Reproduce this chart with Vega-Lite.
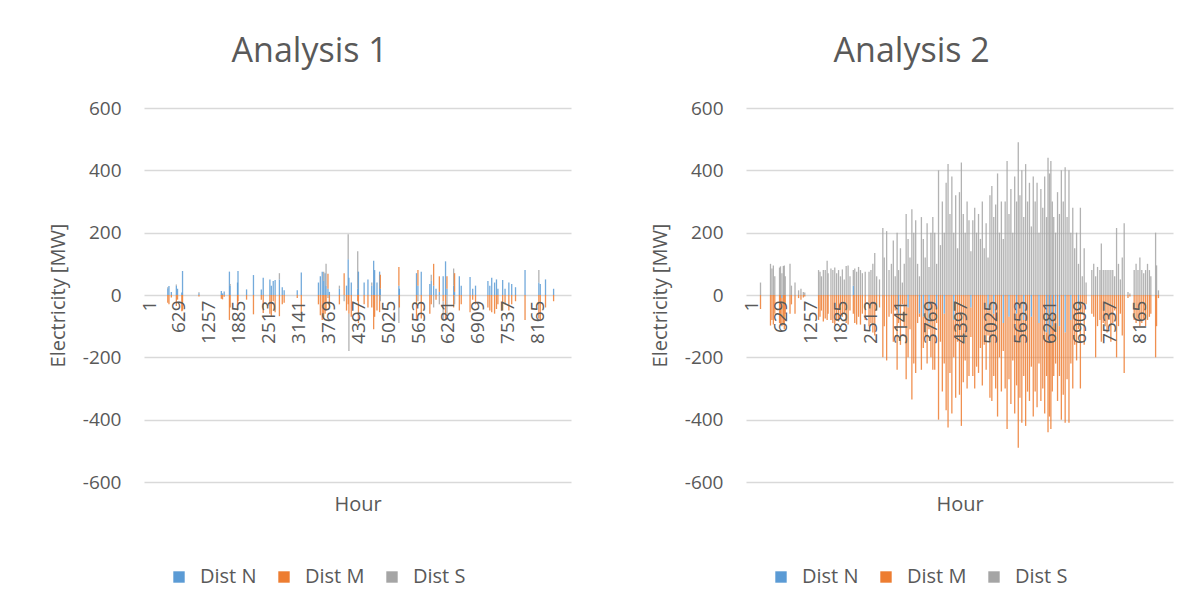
{
 "$schema": "https://vega.github.io/schema/vega-lite/v6.json",
 "background": "white",
 "padding": {"left": 48, "top": 35, "right": 10, "bottom": 5},
 "config": {"font": "Open Sans", "view": {"stroke": null}, "concat": {"spacing": 79}},
 "datasets": {
  "a1": [
   {"h":395,"N":22,"M":-25,"S":3},{"h":420,"N":29,"M":-30},{"h":470,"N":10,"M":-8},{"h":575,"N":30,"M":-35,"S":4},{"h":600,"N":20,"M":-15},{"h":690,"N":8,"M":-52},{"h":705,"N":77,"M":-50},
   {"h":1050,"N":6,"M":-5,"S":3},{"h":1520,"N":13,"M":-12},{"h":1545,"N":5,"M":-14},{"h":1580,"N":11,"M":-6},{"h":1690,"N":75,"M":-80},{"h":1705,"N":30,"M":-40,"S":5},
   {"h":1860,"N":40,"M":-50},{"h":1870,"N":77,"M":-20},{"h":2050,"N":18,"M":-15},{"h":2195,"N":64,"M":-62},{"h":2360,"N":18,"M":-15},{"h":2400,"N":55,"M":-58},
   {"h":2540,"N":50,"M":-60},{"h":2570,"N":30,"M":-70},{"h":2610,"N":45,"M":-20},{"h":2650,"N":48,"M":-55},{"h":2740,"N":50,"M":-68,"S":20},{"h":2800,"N":25,"M":-30},{"h":2840,"N":15,"M":-25},
   {"h":3115,"N":15,"M":-10},{"h":3200,"N":72,"M":-58},{"h":3560,"N":40,"M":-30},{"h":3600,"N":60,"M":-65},{"h":3640,"N":75,"M":-80},{"h":3670,"N":45,"M":-75,"S":30},{"h":3700,"N":70,"M":-60},
   {"h":3720,"N":30,"M":-50,"S":70},{"h":3760,"N":20,"M":48,"S":-10},{"h":3790,"N":10,"M":-40},{"h":4000,"N":20,"M":-30,"S":10},{"h":4100,"M":70,"S":-20},{"h":4150,"N":30,"M":-50},
   {"h":4185,"N":115,"M":-30,"S":80},{"h":4200,"N":55,"M":-60,"S":-120},{"h":4250,"N":40,"M":-70},{"h":4385,"N":20,"M":-20,"S":120},{"h":4400,"N":75,"M":-90},{"h":4520,"N":40,"M":-30},
   {"h":4600,"N":50,"M":-40},{"h":4680,"N":30,"M":-40,"S":10},{"h":4720,"N":110,"M":-110},{"h":4740,"N":80,"M":-70},{"h":4790,"N":40,"M":-50},{"h":4845,"N":75,"M":-55},{"h":4860,"N":20,"M":45,"S":-20},
   {"h":5250,"N":30,"M":60,"S":-90},{"h":5260,"N":20,"M":-40},{"h":5620,"N":70,"M":-80},{"h":5650,"N":30,"M":50,"S":-20},{"h":5720,"N":75,"M":-75},{"h":5900,"N":35,"M":-60},
   {"h":5930,"N":45,"M":-30,"S":20},{"h":5980,"N":30,"M":70,"S":-40},{"h":6030,"N":20,"M":-15},{"h":6100,"N":10,"M":50,"S":-30},{"h":6180,"N":60,"M":-20,"S":-60},{"h":6230,"N":108,"M":-80},
   {"h":6260,"N":20,"M":40,"S":-80},{"h":6400,"N":30,"M":-40,"S":55},{"h":6420,"N":10,"M":60,"S":-30},{"h":6520,"N":60,"M":-50},{"h":6560,"N":30,"M":-30},{"h":6745,"N":58,"M":-55},
   {"h":6800,"N":20,"M":-15},{"h":6860,"N":30,"M":-30},{"h":7120,"N":45,"M":-40},{"h":7160,"N":30,"M":-50},{"h":7200,"N":55,"M":-55},{"h":7260,"N":40,"M":-60},{"h":7300,"N":50,"M":-45},
   {"h":7330,"N":20,"M":-30},{"h":7430,"N":48,"M":-50},{"h":7480,"N":20,"M":-30},{"h":7560,"N":40,"M":-50},{"h":7620,"N":35,"M":-30},{"h":7700,"N":25,"M":-20},{"h":7900,"N":80,"M":-80},
   {"h":8190,"N":40,"M":-75,"S":40},{"h":8220,"N":35,"M":-80},{"h":8330,"N":50,"M":-40},{"h":8500,"N":20,"M":-20}
  ],
  "a2": [
   {"h":200,"S":40,"M":-45},{"h":410,"S":100,"M":-98},{"h":440,"S":85,"M":-80},{"h":470,"S":95,"M":-95},{"h":500,"S":60,"M":-60},{"h":600,"S":88,"M":-90},{"h":620,"S":92,"M":-95},
   {"h":650,"S":70,"M":-90,"N":-10},{"h":680,"S":93,"M":-95},{"h":700,"S":95,"M":-110},{"h":720,"S":60,"M":-60},{"h":820,"S":100,"M":-60},{"h":850,"S":30,"M":-30},{"h":925,"S":40,"M":-60},
   {"h":1000,"S":15,"M":-10},{"h":1050,"S":20,"M":-15},{"h":1100,"S":10,"M":-8},{"h":1130,"S":8,"M":-5},{"h":1420,"S":80,"M":-80},{"h":1450,"S":75,"M":-70},{"h":1480,"S":60,"M":-50},
   {"h":1520,"S":80,"M":-85},{"h":1560,"S":80,"M":-75},{"h":1600,"S":110,"M":-80},{"h":1620,"S":70,"M":-60},{"h":1680,"S":85,"M":-80},{"h":1720,"S":80,"M":-90},{"h":1760,"S":88,"M":-95},
   {"h":1800,"S":70,"M":-80},{"h":1840,"S":80,"M":-85},{"h":1880,"S":60,"M":-70},{"h":1920,"S":82,"M":-70},{"h":1960,"S":50,"M":-60},{"h":2000,"S":93,"M":-90},{"h":2040,"S":95,"M":-95},
   {"h":2080,"S":60,"M":-50},{"h":2150,"N":30,"S":50,"M":-60},{"h":2180,"S":85,"M":-90},{"h":2220,"S":75,"M":-95},{"h":2260,"S":90,"M":-70},{"h":2300,"S":80,"M":-95},{"h":2340,"S":70,"M":-60},
   {"h":2400,"S":75,"M":-80},{"h":2480,"S":75,"M":-100},{"h":2520,"S":80,"M":-90},{"h":2560,"S":100,"M":-120},{"h":2600,"S":135,"M":-130},{"h":2640,"S":60,"M":-50},{"h":2700,"S":50,"M":-40},
   {"h":2770,"S":215,"M":-200},{"h":2800,"S":120,"M":-100},{"h":2850,"S":205,"M":-210},{"h":2900,"S":80,"M":-70},{"h":2950,"S":100,"M":-60},{"h":2990,"S":175,"M":-150},{"h":3030,"S":60,"M":-50},
   {"h":3070,"S":200,"M":-240},{"h":3100,"S":80,"M":-30,"N":-60},{"h":3140,"S":150,"M":-160},{"h":3180,"S":40,"M":-30},{"h":3220,"S":100,"M":-100},{"h":3260,"S":260,"M":-270},
   {"h":3300,"S":180,"M":-160,"N":-40},{"h":3340,"S":120,"M":-110},{"h":3380,"S":275,"M":-335},{"h":3420,"S":200,"M":-220},{"h":3460,"S":240,"M":-250},{"h":3500,"S":100,"M":-90},
   {"h":3540,"S":60,"M":-10,"N":-60},{"h":3580,"S":250,"M":-240},{"h":3620,"S":180,"M":-100,"N":-70},{"h":3660,"S":120,"M":-130},{"h":3700,"S":230,"M":-220},{"h":3740,"S":90,"M":-20,"N":-90},
   {"h":3780,"S":200,"M":-200},{"h":3820,"S":250,"M":-240},{"h":3860,"S":200,"M":-240},{"h":3900,"S":100,"M":-50,"N":-40},{"h":3940,"S":400,"M":-400},{"h":3980,"S":160,"M":-150},
   {"h":4020,"S":300,"M":-310},{"h":4060,"S":200,"M":-160,"N":-60},{"h":4100,"S":360,"M":-370},{"h":4140,"S":420,"M":-425},{"h":4180,"S":260,"M":-250},{"h":4220,"S":380,"M":-380},
   {"h":4260,"S":200,"M":-120,"N":-80},{"h":4300,"S":320,"M":-330},{"h":4340,"S":150,"M":-150},{"h":4380,"S":330,"M":-320},{"h":4420,"S":425,"M":-420},{"h":4460,"S":260,"M":-280},
   {"h":4500,"S":200,"M":-210},{"h":4540,"S":300,"M":-300},{"h":4580,"S":240,"M":-260},{"h":4620,"S":140,"M":-95,"N":-40},{"h":4660,"S":240,"M":-260},{"h":4700,"S":280,"M":-300},
   {"h":4740,"S":200,"M":-230},{"h":4780,"S":260,"M":-250},{"h":4820,"S":180,"M":-170},{"h":4860,"S":300,"M":-290},{"h":4900,"S":150,"M":-160},{"h":4940,"S":230,"M":-240},
   {"h":4980,"S":120,"M":-80,"N":-50},{"h":5020,"S":320,"M":-330},{"h":5060,"S":350,"M":-340},{"h":5100,"S":250,"M":-200,"N":-60},{"h":5140,"S":290,"M":-300},{"h":5180,"S":390,"M":-390},
   {"h":5220,"S":200,"M":-200},{"h":5260,"S":300,"M":-310},{"h":5300,"S":180,"M":-90,"N":-90},{"h":5340,"S":300,"M":-300},{"h":5380,"S":430,"M":-430},{"h":5420,"S":260,"M":-200,"N":-70},
   {"h":5460,"S":340,"M":-350},{"h":5500,"S":200,"M":-210},{"h":5540,"S":380,"M":-380},{"h":5580,"S":300,"M":-230,"N":-60},{"h":5615,"S":490,"M":-490},{"h":5650,"S":320,"M":-330},
   {"h":5690,"S":400,"M":-410},{"h":5730,"S":250,"M":-180,"N":-80},{"h":5770,"S":420,"M":-420},{"h":5810,"S":300,"M":-310},{"h":5850,"S":360,"M":-340},{"h":5890,"S":220,"M":-160,"N":-70},
   {"h":5930,"S":380,"M":-390},{"h":5970,"S":300,"M":-310},{"h":6010,"S":360,"M":-360},{"h":6050,"S":200,"M":-130,"N":-90},{"h":6090,"S":340,"M":-340},{"h":6130,"S":280,"M":-300},
   {"h":6170,"S":380,"M":-380},{"h":6210,"S":250,"M":-140,"N":-120},{"h":6240,"S":440,"M":-440},{"h":6270,"S":390,"M":-240,"N":-150},{"h":6300,"S":430,"M":-430},{"h":6330,"S":300,"M":-210,"N":-100},
   {"h":6360,"S":250,"M":-260},{"h":6400,"S":200,"M":-160,"N":-60},{"h":6440,"S":330,"M":-340},{"h":6480,"S":260,"M":-160,"N":-100},{"h":6520,"S":400,"M":-400},{"h":6560,"S":300,"M":-320},
   {"h":6600,"S":410,"M":-290,"N":-120},{"h":6640,"S":250,"M":-270},{"h":6680,"S":400,"M":-410},{"h":6720,"S":200,"M":-140,"N":-80},{"h":6760,"S":280,"M":-300},{"h":6800,"S":150,"M":-160},
   {"h":6840,"S":200,"M":-210},{"h":6880,"S":100,"M":-60,"N":-50},{"h":6920,"S":280,"M":-300},{"h":6960,"S":60,"M":-60},{"h":7000,"S":150,"M":-160},{"h":7040,"S":40,"M":-30},
   {"h":7160,"S":80,"M":-60},{"h":7200,"S":100,"M":-70},{"h":7240,"S":60,"M":-200},{"h":7280,"S":90,"M":-100},{"h":7330,"S":80,"M":-80},{"h":7360,"S":165,"M":-150},{"h":7400,"S":80,"M":-90},
   {"h":7440,"S":80,"M":-100},{"h":7480,"S":80,"M":-120},{"h":7520,"S":80,"M":-80},{"h":7560,"S":80,"M":-150},{"h":7600,"S":80,"M":-90},{"h":7640,"S":60,"M":-50},{"h":7680,"S":215,"M":-200},
   {"h":7720,"S":100,"M":-100},{"h":7760,"S":50,"M":-60},{"h":7800,"S":120,"M":-130},{"h":7840,"S":230,"M":-250},{"h":7920,"S":10,"M":-10},{"h":7960,"S":5,"M":-5},{"h":8050,"S":80,"M":-80},
   {"h":8090,"S":100,"M":-90},{"h":8130,"S":80,"M":-80},{"h":8170,"S":120,"M":-100},{"h":8210,"S":80,"M":-90},{"h":8250,"S":70,"M":-80},{"h":8290,"S":80,"M":-100},{"h":8330,"S":100,"M":-80},
   {"h":8370,"S":80,"M":-70},{"h":8400,"S":60,"M":-60},{"h":8500,"S":200,"M":-200},{"h":8520,"S":95,"M":-100},{"h":8560,"S":15,"M":-10}
  ]
 },
 "resolve": {"scale": {"color": "independent"}},
 "hconcat": [
  {
   "title": {"text": "Analysis 1", "fontSize": 34, "fontWeight": "normal", "color": "#595959", "frame": "bounds", "anchor": "middle", "offset": 30},
   "width": 427, "height": 374,
   "data": {"name": "a1"},
   "transform": [
    {"fold": ["N", "M", "S"], "as": ["k", "v"]},
    {"filter": "isValid(datum.v)"},
    {"stack": "v", "groupby": ["h"], "offset": "zero", "as": ["v0", "v1"]}
   ],
   "mark": {"type": "bar", "width": 1.3, "opacity": 0.85},
   "encoding": {
    "x": {"field": "h", "type": "quantitative", "scale": {"domain": [0.5, 8760.5], "nice": false, "zero": false},
     "axis": {"values": [1,629,1257,1885,2513,3141,3769,4397,5025,5653,6281,6909,7537,8165], "labelExpr": "datum.value + ''", "labelAngle": -90, "labelPadding": 5, "labelFontSize": 19, "labelColor": "#595959", "labelOverlap": false, "labelFlush": false, "labelBound": false, "domain": false, "ticks": false, "tickSize": 0, "grid": false, "offset": -187, "zindex": 1, "title": "Hour", "titleFontSize": 20, "titleFontWeight": "normal", "titleColor": "#595959", "titleY": 199}},
    "y": {"field": "v0", "type": "quantitative", "scale": {"domain": [-600, 600], "nice": false},
     "axis": {"title": "Electricity [MW]", "values": [-600,-400,-200,0,200,400,600], "labelExpr": "datum.value + ''", "grid": true, "gridColor": "#d9d9d9", "gridWidth": 1.5, "domain": false, "ticks": false, "tickSize": 0, "labelPadding": 23, "labelFontSize": 19, "labelColor": "#595959", "titleFontSize": 20, "titleFontWeight": "normal", "titleColor": "#595959", "titlePadding": 14}},
    "y2": {"field": "v1"},
    "color": {"field": "k", "type": "nominal", "scale": {"domain": ["N", "M", "S"], "range": ["#5b9bd5", "#ed7d31", "#a5a5a5"]},
     "legend": {"title": null, "orient": "none", "legendX": 25, "legendY": 459, "direction": "horizontal", "symbolType": "square", "symbolSize": 130, "symbolStrokeWidth": 0, "symbolOpacity": 1, "labelFontSize": 20, "labelColor": "#595959", "labelExpr": "'Dist ' + datum.label", "columnPadding": 17, "labelOffset": 11, "padding": 0}}
   }
  },
  {
   "title": {"text": "Analysis 2", "fontSize": 34, "fontWeight": "normal", "color": "#595959", "frame": "bounds", "anchor": "middle", "offset": 30},
   "width": 427, "height": 374,
   "data": {"name": "a2"},
   "transform": [
    {"fold": ["N", "M", "S"], "as": ["k", "v"]},
    {"filter": "isValid(datum.v)"},
    {"stack": "v", "groupby": ["h"], "offset": "zero", "as": ["v0", "v1"]}
   ],
   "mark": {"type": "bar", "width": 1.3, "opacity": 0.85},
   "encoding": {
    "x": {"field": "h", "type": "quantitative", "scale": {"domain": [0.5, 8760.5], "nice": false, "zero": false},
     "axis": {"values": [1,629,1257,1885,2513,3141,3769,4397,5025,5653,6281,6909,7537,8165], "labelExpr": "datum.value + ''", "labelAngle": -90, "labelPadding": 5, "labelFontSize": 19, "labelColor": "#595959", "labelOverlap": false, "labelFlush": false, "labelBound": false, "domain": false, "ticks": false, "tickSize": 0, "grid": false, "offset": -187, "zindex": 1, "title": "Hour", "titleFontSize": 20, "titleFontWeight": "normal", "titleColor": "#595959", "titleY": 199}},
    "y": {"field": "v0", "type": "quantitative", "scale": {"domain": [-600, 600], "nice": false},
     "axis": {"title": "Electricity [MW]", "values": [-600,-400,-200,0,200,400,600], "labelExpr": "datum.value + ''", "grid": true, "gridColor": "#d9d9d9", "gridWidth": 1.5, "domain": false, "ticks": false, "tickSize": 0, "labelPadding": 23, "labelFontSize": 19, "labelColor": "#595959", "titleFontSize": 20, "titleFontWeight": "normal", "titleColor": "#595959", "titlePadding": 14}},
    "y2": {"field": "v1"},
    "color": {"field": "k", "type": "nominal", "scale": {"domain": ["N", "M", "S"], "range": ["#5b9bd5", "#ed7d31", "#a5a5a5"]},
     "legend": {"title": null, "orient": "none", "legendX": 25, "legendY": 459, "direction": "horizontal", "symbolType": "square", "symbolSize": 130, "symbolStrokeWidth": 0, "symbolOpacity": 1, "labelFontSize": 20, "labelColor": "#595959", "labelExpr": "'Dist ' + datum.label", "columnPadding": 17, "labelOffset": 11, "padding": 0}}
   }
  }
 ]
}
